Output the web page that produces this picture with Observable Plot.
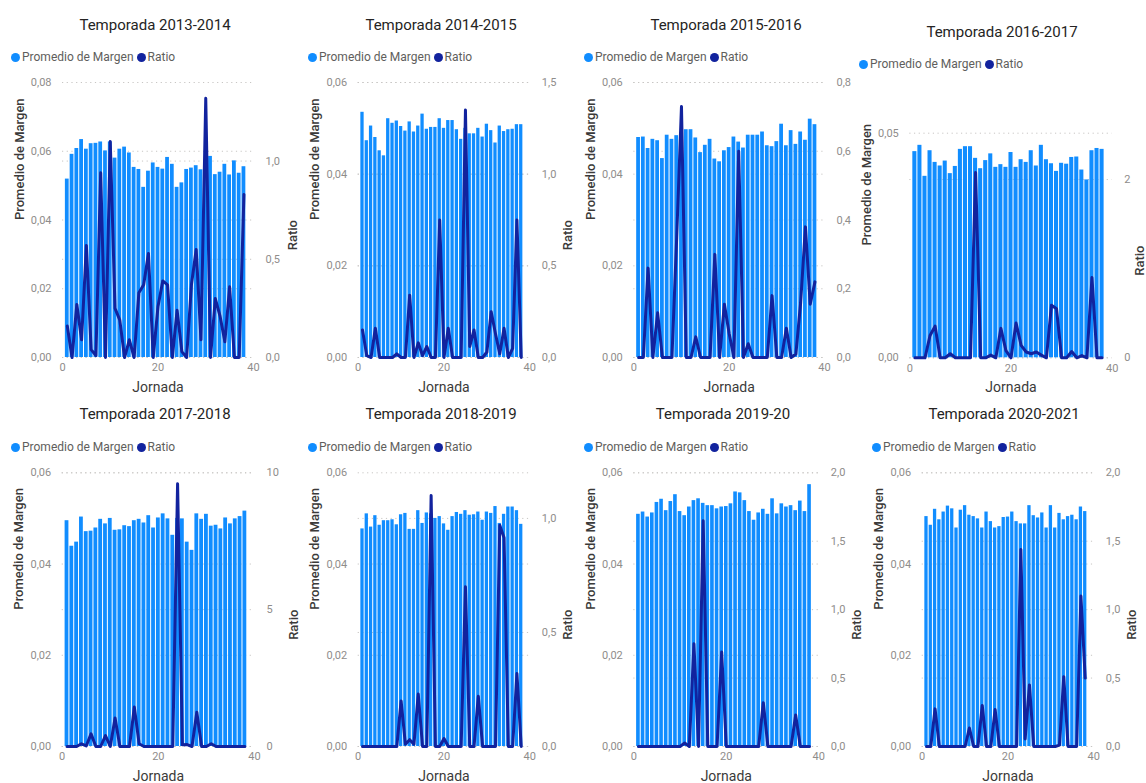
<!DOCTYPE html>
<html>
<head>
<meta charset="utf-8">
<script src="https://cdn.jsdelivr.net/npm/d3@7"></script>
<script src="https://cdn.jsdelivr.net/npm/@observablehq/plot@0.6"></script>
<style>
  html, body { margin: 0; padding: 0; background: #fff; }
  body { width: 1146px; height: 783px; overflow: hidden; position: relative; font-family: Roboto, "Noto Sans", sans-serif; }
  .layer { position: absolute; }
  .layer svg { display: block; max-width: none; overflow: visible; }
  .title { position: absolute; width: 300px; text-align: center; font-size: 15px; font-weight: 400; color: #252423; line-height: 20px; white-space: nowrap; }
  .legend { position: absolute; font-size: 12px; color: #605e5c; line-height: 16px; white-space: nowrap; }
  .legend .dot { display: inline-block; width: 9px; height: 9px; border-radius: 50%; margin-right: 2px; vertical-align: -0.5px; }
  .legend .item { margin-right: 3px; }
</style>
</head>
<body>
<script>
// ---------- DATA ----------
const jornadas = [1,2,3,4,5,6,7,8,9,10,11,12,13,14,15,16,17,18,19,20,21,22,23,24,25,26,27,28,29,30,31,32,33,34,35,36,37,38];

const temporadas = ["Temporada 2013-2014","Temporada 2014-2015","Temporada 2015-2016","Temporada 2016-2017",
                    "Temporada 2017-2018","Temporada 2018-2019","Temporada 2019-20","Temporada 2020-2021"];

const serieMargen = "Promedio de Margen";
const serieRatio = "Ratio";
const ejeX = "Jornada";

const margen1314 = [0.0519,0.0591,0.0608,0.0634,0.0606,0.0622,0.0623,0.0627,0.0601,0.0627,0.0580,0.0606,0.0612,0.0595,0.0553,0.0547,0.0495,0.0542,0.0566,0.0553,0.0548,0.0582,0.0562,0.0495,0.0508,0.0547,0.0551,0.0558,0.0546,0.0550,0.0585,0.0532,0.0539,0.0562,0.0531,0.0572,0.0536,0.0555];
const ratio1314  = [0.16,0,0.27,0.09,0.57,0.04,0.01,0.94,0,1.10,0.25,0.19,0,0.09,0,0.33,0.37,0.53,0,0.26,0.39,0.37,0,0.24,0.03,0,0.37,0.55,0.09,1.32,0,0.30,0.21,0.08,0.36,0,0,0.83];

const margen1415 = [0.0535,0.0473,0.0505,0.0480,0.0451,0.0440,0.0521,0.0511,0.0516,0.0504,0.0494,0.0514,0.0492,0.0505,0.0531,0.0498,0.0502,0.0502,0.0521,0.0500,0.0517,0.0517,0.0497,0.0476,0.0500,0.0488,0.0488,0.0500,0.0481,0.0509,0.0495,0.0468,0.0505,0.0493,0.0497,0.0498,0.0508,0.0508];
const ratio1415  = [0.15,0.01,0,0.16,0,0,0,0,0.02,0,0,0.34,0,0.08,0.01,0.06,0,0,0.75,0,0.16,0,0,0,1.35,0.06,0.15,0,0,0.03,0.25,0.13,0.02,0.16,0,0.05,0.75,0];

const margen1516 = [0.0480,0.0481,0.0456,0.0476,0.0473,0.0434,0.0485,0.0476,0.0484,0.0490,0.0497,0.0497,0.0479,0.0447,0.0463,0.0476,0.0433,0.0427,0.0451,0.0458,0.0481,0.0470,0.0457,0.0485,0.0485,0.0485,0.0492,0.0462,0.0460,0.0471,0.0509,0.0462,0.0495,0.0465,0.0492,0.0474,0.0520,0.0508];
const ratio1516  = [0,0,0.26,0,0.13,0,0,0,0.35,0.73,0,0,0.06,0,0,0,0.30,0,0.155,0.07,0,0.60,0,0.04,0,0,0,0,0.18,0,0,0.085,0,0.01,0.16,0.38,0.155,0.22];

const margen1617 = [0.0459,0.0473,0.0404,0.0461,0.0435,0.0427,0.0438,0.0410,0.0426,0.0464,0.0470,0.0470,0.0444,0.0421,0.0439,0.0454,0.0424,0.0430,0.0424,0.0457,0.0424,0.0441,0.0435,0.0461,0.0427,0.0473,0.0441,0.0432,0.0415,0.0433,0.0431,0.0446,0.0447,0.0418,0.0396,0.0461,0.0466,0.0464];
const ratio1617  = [0,0,0,0.25,0.355,0,0,0.045,0,0,0,0,2.08,0,0,0.03,0,0.33,0.08,0,0.39,0.14,0.065,0.045,0.065,0.03,0,0.59,0.55,0,0,0.07,0,0.025,0,0.90,0,0];

const margen1718 = [0.0495,0.0439,0.0448,0.0503,0.0471,0.0472,0.0479,0.0498,0.0488,0.0500,0.0474,0.0475,0.0484,0.0482,0.0495,0.0498,0.0490,0.0506,0.0479,0.0501,0.0510,0.0499,0.0463,0.0500,0.0499,0.0448,0.0430,0.0510,0.0498,0.0509,0.0483,0.0485,0.0477,0.0501,0.0488,0.0499,0.0504,0.0516];
const ratio1718  = [0,0,0,0.1,0.02,0.46,0,0,0.4,0,1.04,0,0,0,1.44,0.1,0,0,0,0,0,0,0,9.6,0.06,0.07,0,1.25,0,0,0.1,0,0,0,0,0,0,0];

const margen1819 = [0.0477,0.0510,0.0481,0.0506,0.0485,0.0495,0.0495,0.0497,0.0486,0.0508,0.0511,0.0476,0.0476,0.0517,0.0489,0.0512,0.0510,0.0500,0.0504,0.0488,0.0474,0.0504,0.0513,0.0509,0.0517,0.0507,0.0508,0.0514,0.0496,0.0514,0.0511,0.0526,0.0489,0.0509,0.0525,0.0525,0.0517,0.0487];
const ratio1819  = [0,0,0,0,0,0,0,0,0,0.20,0.01,0.03,0.01,0.23,0,0,1.10,0,0,0.035,0,0,0,0,0.70,0,0,0.22,0,0,0,0,0.97,0.915,0,0,0.32,0];

const margen1920 = [0.0509,0.0514,0.0503,0.0512,0.0535,0.0542,0.0517,0.0537,0.0552,0.0515,0.0506,0.0525,0.0539,0.0543,0.0533,0.0528,0.0528,0.0521,0.0525,0.0526,0.0532,0.0558,0.0556,0.0539,0.0515,0.0496,0.0512,0.0520,0.0509,0.0543,0.0510,0.0532,0.0525,0.0528,0.0517,0.0538,0.0515,0.0574];
const ratio1920  = [0,0,0,0,0,0,0,0,0,0,0.025,0,0.75,0,1.65,0,0,0,0.69,0,0,0,0,0,0,0,0,0.32,0,0,0,0,0,0,0.23,0,0,0];

const margen2021 = [0.0504,0.0485,0.0520,0.0497,0.0514,0.0527,0.0521,0.0479,0.0518,0.0528,0.0507,0.0504,0.0499,0.0479,0.0514,0.0493,0.0479,0.0482,0.0502,0.0503,0.0514,0.0493,0.0488,0.0488,0.0528,0.0506,0.0501,0.0512,0.0479,0.0528,0.0479,0.0511,0.0497,0.0504,0.0507,0.0497,0.0525,0.0515];
const ratio2021  = [0,0,0.275,0,0,0,0,0,0,0,0.135,0,0,0.30,0,0,0.27,0,0,0,0,0,1.44,0.055,0.45,0,0,0,0,0,0,0.01,0.51,0,0,0,1.10,0.50];

// axis ticks
const jornadaTicks = [0, 20, 40];
const margenTicksA = [0, 0.02, 0.04, 0.06, 0.08];
const margenTicksB = [0, 0.02, 0.04, 0.06];
const margenTicksC = [0, 0.05];
const ratioTicks1314 = [0, 0.5, 1.0];
const ratioTicks1415 = [0, 0.5, 1.0, 1.5];
const ratioTicks1516 = [0, 0.2, 0.4, 0.6, 0.8];
const ratioTicks1617 = [0, 2];
const ratioTicks1718 = [0, 5, 10];
const ratioTicks1819 = [0, 0.5, 1.0];
const ratioTicks1920 = [0, 0.5, 1.0, 1.5, 2.0];
const ratioTicks2021 = [0, 0.5, 1.0, 1.5, 2.0];

// scale domains (as shown on the axes)
const margenMax = [0.08, 0.06, 0.06, 0.05, 0.06, 0.06, 0.06, 0.06];
const ratioMax  = [1.4, 1.5, 0.8, 2.52, 10, 1.2, 2.0, 2.0];
const ratioDecimals = [1, 1, 1, 0, 0, 1, 1, 1];

const margenes = [margen1314, margen1415, margen1516, margen1617, margen1718, margen1819, margen1920, margen2021];
const ratios = [ratio1314, ratio1415, ratio1516, ratio1617, ratio1718, ratio1819, ratio1920, ratio2021];
const margenTicks = [margenTicksA, margenTicksB, margenTicksB, margenTicksC, margenTicksB, margenTicksB, margenTicksB, margenTicksB];
const ratioTicks = [ratioTicks1314, ratioTicks1415, ratioTicks1516, ratioTicks1617, ratioTicks1718, ratioTicks1819, ratioTicks1920, ratioTicks2021];

// ---------- LAYOUT ----------
const layout = [
  {L:0,   T:70,  W:300, H:330, x0:62,    x40:253,    yTop:82,    yBot:357,   tx:155,  ty:25, lx:11,  ly:57,  rdx:39.5, showR:true},
  {L:290, T:70,  W:290, H:330, x0:357.7, x40:529.3,  yTop:82,    yBot:357,   tx:441,  ty:25, lx:308, ly:57,  rdx:38.5, showR:true},
  {L:570, T:70,  W:290, H:330, x0:633.3, x40:824,    yTop:82,    yBot:357,   tx:726,  ty:25, lx:584, ly:57,  rdx:38,   showR:false},
  {L:850, T:70,  W:296, H:330, x0:909.3, x40:1111.7, yTop:132.7, yBot:357.3, tx:1002, ty:32, lx:859, ly:64,  rdx:27.5, showR:true},
  {L:0,   T:450, W:300, H:333, x0:61.7,  x40:254,    yTop:472.3, yBot:746,   tx:155,  ty:414, lx:11, ly:447, rdx:39.5, showR:true},
  {L:290, T:450, W:290, H:333, x0:357.7, x40:529.3,  yTop:472.3, yBot:746,   tx:441,  ty:414, lx:308, ly:447, rdx:38.5, showR:true},
  {L:570, T:450, W:290, H:333, x0:633.3, x40:818.3,  yTop:472.3, yBot:746,   tx:723,  ty:414, lx:584, ly:447, rdx:37.7, showR:true},
  {L:850, T:450, W:296, H:333, x0:921.7, x40:1093.3, yTop:472.3, yBot:746,   tx:1004, ty:414, lx:872, ly:447, rdx:38.4, showR:true}
];

const BAR = "#118DFF", LINE = "#12239E", GRID = "#c8c6c4", TICK = "#8f8d8b", AXT = "#3b3a39";
const comma = dec => v => v.toFixed(dec).replace(".", ",");

function addLayer(g, svg) {
  const d = document.createElement("div");
  d.className = "layer";
  d.style.left = g.L + "px"; d.style.top = g.T + "px";
  d.style.width = g.W + "px"; d.style.height = g.H + "px";
  d.appendChild(svg);
  document.body.appendChild(d);
}

temporadas.forEach((titulo, i) => {
  const g = layout[i];
  const data = jornadas.map((j, k) => ({jornada: j, margen: margenes[i][k], ratio: ratios[i][k]}));
  const common = {
    width: g.W, height: g.H,
    marginLeft: g.x0 - g.L, marginRight: g.L + g.W - g.x40,
    marginTop: g.yTop - g.T, marginBottom: g.T + g.H - g.yBot,
    style: {background: "transparent", fontFamily: "Roboto, 'Noto Sans', sans-serif", fontSize: "11px", overflow: "visible"}
  };

  // layer 1: ratio gridlines + right axis
  addLayer(g, Plot.plot({
    ...common,
    x: {domain: [0, 40], axis: null},
    y: {domain: [0, ratioMax[i]]},
    marks: [
      Plot.gridY(ratioTicks[i], {stroke: GRID, strokeOpacity: 1, strokeDasharray: "1.2,3.5"}),
      Plot.axisY(ratioTicks[i], {anchor: "right", tickSize: 0, tickPadding: 12, tickFormat: comma(ratioDecimals[i]), label: null, fill: TICK}),
      g.showR ? Plot.text([serieRatio], {frameAnchor: "right", rotate: -90, dx: g.rdx, text: d => d, fontSize: 13, fontWeight: 500, fill: AXT}) : null
    ]
  }));

  // layer 2: bars + left axis + x axis
  addLayer(g, Plot.plot({
    ...common,
    x: {domain: [0, 40]},
    y: {domain: [0, margenMax[i]]},
    marks: [
      Plot.gridY(margenTicks[i], {stroke: GRID, strokeOpacity: 1, strokeDasharray: "1.2,3.5"}),
      Plot.rect(data, {x1: d => d.jornada - 0.5, x2: d => d.jornada + 0.5, y1: d => 0, y2: "margen", fill: BAR, insetLeft: 0.5, insetRight: 0.5}),
      Plot.axisX(jornadaTicks, {tickSize: 0, tickPadding: 6, label: null, fill: TICK}),
      Plot.axisY(margenTicks[i], {anchor: "left", tickSize: 0, tickPadding: 11, tickFormat: comma(2), label: null, fill: TICK}),
      Plot.text([serieMargen], {frameAnchor: "left", rotate: -90, dx: -43, text: d => d, fontSize: 13, fontWeight: 500, fill: AXT}),
      Plot.text([ejeX], {frameAnchor: "bottom", dy: 34, text: d => d, fontSize: 14, fontWeight: 400, fill: AXT})
    ]
  }));

  // layer 3: ratio line on top
  addLayer(g, Plot.plot({
    ...common,
    x: {domain: [0, 40], axis: null},
    y: {domain: [0, ratioMax[i]], axis: null},
    marks: [
      Plot.line(data, {x: "jornada", y: "ratio", stroke: LINE, strokeWidth: 3})
    ]
  }));

  // title
  const t = document.createElement("div");
  t.className = "title";
  t.textContent = titulo;
  t.style.left = (g.tx - 150) + "px";
  t.style.top = (g.ty - 10) + "px";
  document.body.appendChild(t);

  // legend
  const lg = document.createElement("div");
  lg.className = "legend";
  lg.style.left = g.lx + "px";
  lg.style.top = (g.ly - 8) + "px";
  lg.innerHTML = `<span class="item"><span class="dot" style="background:${BAR}"></span>${serieMargen}</span>` +
                 `<span class="item"><span class="dot" style="background:${LINE}"></span>${serieRatio}</span>`;
  document.body.appendChild(lg);
});
</script>
</body>
</html>
